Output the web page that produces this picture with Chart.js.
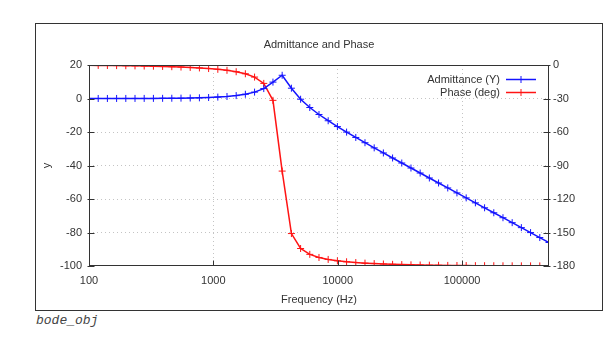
<!DOCTYPE html>
<html>
<head>
<meta charset="utf-8">
<script src="https://cdn.jsdelivr.net/npm/chart.js@4.4.1/dist/chart.umd.min.js"></script>
<style>
    body { margin: 0; background: #fff; width: 616px; height: 341px; position: relative; overflow: hidden; }
    #frame { position: absolute; left: 35px; top: 23px; width: 566px; height: 286px; border: 1px solid #333; }
    #frame canvas { display: block; }
    #caption { position: absolute; left: 36px; top: 313px; font: italic 13px "Liberation Mono", monospace; color: #444; }
</style>
</head>
<body>
<div id="frame"><canvas id="bodeChart" width="566" height="286"></canvas></div>
<div id="caption">bode_obj</div>
<script>
// values
const freqHz = [100, 118.6, 140.6, 166.7, 197.7, 234.4, 277.9, 329.6, 390.8, 463.3,
    549.4, 651.4, 772.4, 915.9, 1086, 1287, 1526, 1809, 2145, 2543,
    3015, 3575, 4243, 5030, 5963, 7070, 8382, 9941, 11786, 13975,
    16568, 19646, 23293, 27616, 32743, 38821, 46027, 54571, 64701, 76711,
    90948, 107930, 127970, 151710, 179880, 213260, 252850, 299780, 355400, 421630,
    500000];

const admittanceDb = [0.01, 0.01, 0.01, 0.02, 0.03, 0.04, 0.05, 0.07, 0.10, 0.15,
    0.21, 0.29, 0.41, 0.59, 0.84, 1.20, 1.73, 2.54, 3.81, 5.92,
    9.78, 13.87, 6.15, -0.43, -5.39, -9.55, -13.28, -16.76, -20.06, -23.26,
    -26.39, -29.47, -32.51, -35.52, -38.52, -41.51, -44.49, -47.46, -50.43, -53.40,
    -56.36, -59.33, -62.29, -65.25, -68.21, -71.17, -74.13, -77.09, -80.05, -83.01,
    -85.97];

const phaseDeg = [-0.32, -0.38, -0.46, -0.54, -0.64, -0.76, -0.90, -1.07, -1.28, -1.52,
    -1.82, -2.18, -2.62, -3.17, -3.87, -4.78, -6.03, -7.86, -10.81, -16.48,
    -31.66, -95.0, -150.95, -164.33, -169.58, -172.37, -174.12, -175.33, -176.22, -176.90,
    -177.43, -177.86, -178.21, -178.50, -178.74, -178.94, -179.11, -179.25, -179.37, -179.47,
    -179.55, -179.62, -179.68, -179.73, -179.77, -179.81, -179.84, -179.86, -179.89, -179.90,
    -179.92];

const xTicks = [100, 1000, 10000, 100000];
const yTicks = [20, 0, -20, -40, -60, -80, -100];
const y2Ticks = [0, -30, -60, -90, -120, -150, -180];

const FONT = '"Liberation Sans", Arial, sans-serif';
const TEXT = '#333';

// gnuplot style box, inward tick marks and key drawn inside the plot
const gnuplotFrame = {
    id: 'gnuplotFrame',
    afterDatasetsDraw(chart) {
        const { ctx, chartArea: a, scales } = chart;
        const L = Math.round(a.left) + 0.5, R = Math.round(a.right) - 0.5;
        const T = Math.round(a.top) + 0.5, B = Math.round(a.bottom) - 0.5;
        ctx.save();
        ctx.strokeStyle = '#333';
        ctx.lineWidth = 1;
        ctx.strokeRect(L, T, R - L, B - T);

        ctx.beginPath();
        yTicks.forEach(v => {
            const y = Math.round(scales.y.getPixelForValue(v)) + 0.5;
            ctx.moveTo(L - 2, y); ctx.lineTo(L + 5, y);
        });
        y2Ticks.forEach(v => {
            const y = Math.round(scales.y1.getPixelForValue(v)) + 0.5;
            ctx.moveTo(R - 5, y); ctx.lineTo(R + 2, y);
        });
        xTicks.forEach(v => {
            const x = Math.round(scales.x.getPixelForValue(v)) + 0.5;
            ctx.moveTo(x, B); ctx.lineTo(x, B - 5);
        });
        ctx.stroke();

        // key
        ctx.font = '11px ' + FONT;
        ctx.textAlign = 'right';
        ctx.textBaseline = 'middle';
        chart.data.datasets.forEach((ds, i) => {
            const y = Math.round(a.top + 14 + i * 13.4) + 0.5;
            ctx.fillStyle = TEXT;
            ctx.fillText(ds.label, a.right - 49, y);
            ctx.strokeStyle = ds.borderColor;
            ctx.lineWidth = 1.5;
            ctx.beginPath();
            ctx.moveTo(a.right - 43, y); ctx.lineTo(a.right - 13, y);
            ctx.stroke();
            ctx.lineWidth = 1;
            ctx.beginPath();
            ctx.moveTo(a.right - 28, y - 3.5); ctx.lineTo(a.right - 28, y + 3.5);
            ctx.stroke();
        });
        ctx.restore();
    }
};

function series(label, values, color, axis) {
    return {
        label: label,
        data: freqHz.map((f, i) => ({ x: f, y: values[i] })),
        yAxisID: axis,
        borderColor: color,
        backgroundColor: color,
        borderWidth: 1.5,
        pointStyle: 'cross',
        pointRadius: 3.5,
        pointBorderWidth: 1,
        tension: 0
    };
}

const gridColor = edges => ctx => edges.includes(ctx.tick.value) ? 'rgba(0,0,0,0)' : '#c4c4c4';

new Chart(document.getElementById('bodeChart'), {
    type: 'line',
    data: {
        datasets: [
            series('Admittance (Y)', admittanceDb, 'rgb(20,20,255)', 'y'),
            series('Phase (deg)', phaseDeg, 'rgb(255,20,20)', 'y1')
        ]
    },
    options: {
        responsive: false,
        animation: false,
        layout: { padding: 0 },
        plugins: {
            legend: { display: false },
            tooltip: { enabled: false },
            title: {
                display: true,
                text: 'Admittance and Phase',
                color: TEXT,
                font: { family: FONT, size: 11, weight: 'normal' },
                padding: { top: 14.5, bottom: 13.3 }
            }
        },
        scales: {
            x: {
                type: 'logarithmic',
                min: 100,
                max: 500000,
                afterBuildTicks: s => { s.ticks = xTicks.map(v => ({ value: v })); },
                afterFit: s => { s.height = 44; },
                ticks: {
                    color: TEXT,
                    padding: 8,
                    maxRotation: 0,
                    font: { family: FONT, size: 11 },
                    callback: v => String(v)
                },
                grid: { color: gridColor([100]), drawTicks: false },
                border: { display: false, dash: [1, 3] },
                title: {
                    display: true,
                    text: 'Frequency (Hz)',
                    color: TEXT,
                    font: { family: FONT, size: 11 },
                    padding: { top: 0, bottom: 3 }
                }
            },
            y: {
                position: 'left',
                min: -100,
                max: 20,
                afterBuildTicks: s => { s.ticks = yTicks.map(v => ({ value: v })); },
                afterFit: s => { s.width = 53; },
                ticks: { color: TEXT, padding: 7, font: { family: FONT, size: 11 } },
                grid: { color: gridColor([20, -100]), drawTicks: false },
                border: { display: false, dash: [1, 3] },
                title: {
                    display: true,
                    text: 'y',
                    color: TEXT,
                    font: { family: FONT, size: 11 },
                    padding: { top: 4, bottom: 0 }
                }
            },
            y1: {
                position: 'right',
                min: -180,
                max: 0,
                afterBuildTicks: s => { s.ticks = y2Ticks.map(v => ({ value: v })); },
                afterFit: s => { s.width = 53; },
                ticks: { color: TEXT, padding: 4, font: { family: FONT, size: 11 } },
                grid: { drawOnChartArea: false, drawTicks: false },
                border: { display: false }
            }
        }
    },
    plugins: [gnuplotFrame]
});
</script>
</body>
</html>
